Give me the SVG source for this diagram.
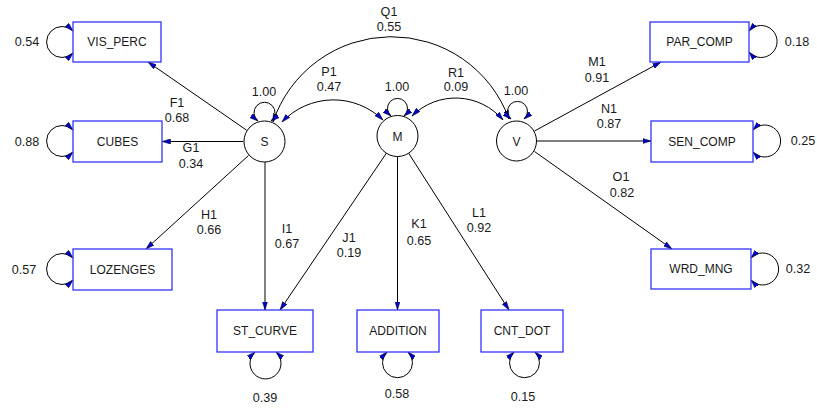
<svg xmlns="http://www.w3.org/2000/svg" width="817" height="408" viewBox="0 0 817 408">
<style>
text{font-family:"Liberation Sans",Arial,sans-serif;font-size:12px;fill:#1a1a1a;text-anchor:middle}
#labels text{font-size:12.6px}
.box rect{fill:#fff;stroke:#3333ff;stroke-width:1.3}
.lat circle{fill:#fff;stroke:#000;stroke-width:1}
.e{fill:none;stroke:#000;stroke-width:1;marker-end:url(#ah)}
.b{fill:none;stroke:#000;stroke-width:1;marker-start:url(#ahs);marker-end:url(#ah)}
</style>
<defs>
<marker id="ah" viewBox="0 0 10 6" refX="10" refY="3" markerWidth="8.5" markerHeight="5.5" markerUnits="userSpaceOnUse" orient="auto"><path d="M0,0 L10,3 L0,6 Z" fill="#0000cc" stroke="#000" stroke-width="0.6"/></marker>
<marker id="ahs" viewBox="0 0 10 6" refX="10" refY="3" markerWidth="8.5" markerHeight="5.5" markerUnits="userSpaceOnUse" orient="auto-start-reverse"><path d="M0,0 L10,3 L0,6 Z" fill="#0000cc" stroke="#000" stroke-width="0.6"/></marker>
</defs>
<rect width="817" height="408" fill="#fff"/>
<g id="connectors">
<path class="e" d="M246.6,130.2 L148,62"/>
<path class="e" d="M243.5,141.5 L162,141.5"/>
<path class="e" d="M248.5,155.5 L146,249"/>
<path class="e" d="M265,162 L265,310"/>
<path class="e" d="M386.5,153 L280,310"/>
<path class="e" d="M397.5,156.5 L397.5,310"/>
<path class="e" d="M408.5,153 L509,310"/>
<path class="e" d="M534.5,131 L661,62"/>
<path class="e" d="M536.5,141 L651,141"/>
<path class="e" d="M534.5,151.5 L672,249"/>
<path class="b" d="M282,122 A71,71 0 0 1 383,120"/>
<path class="b" d="M273,122 A125,125 0 0 1 509,119"/>
<path class="b" d="M412,116 A62,62 0 0 1 503,120"/>
<path class="b" d="M258,121 A10.5,10.5 0 1 1 271,121"/>
<path class="b" d="M391,116 A10,10 0 1 1 404,116"/>
<path class="b" d="M511,119 A10,10 0 1 1 524,119"/>
<path class="b" d="M73,31 A15.5,15.5 0 1 0 73,53"/>
<path class="b" d="M73,130 A15.5,15.5 0 1 0 73,152"/>
<path class="b" d="M73,258 A15.5,15.5 0 1 0 73,280"/>
<path class="b" d="M749,31 A16,16 0 1 1 749,52"/>
<path class="b" d="M753,130 A16,16 0 1 1 753,152"/>
<path class="b" d="M751,258 A16,16 0 1 1 751,280"/>
<path class="b" d="M255,352 A15.5,15.5 0 1 0 276,352"/>
<path class="b" d="M387,352 A15,15 0 1 0 408,352"/>
<path class="b" d="M514,352 A15,15 0 1 0 535,352"/>
</g>
<g id="S" class="lat"><circle cx="264.5" cy="141.5" r="20.5"/><text x="264.5" y="146">S</text></g>
<g id="M" class="lat"><circle cx="397.5" cy="136" r="20.5"/><text x="397.5" y="140.5">M</text></g>
<g id="V" class="lat"><circle cx="516.5" cy="141" r="20"/><text x="516.5" y="145.5">V</text></g>
<g id="VIS_PERC" class="box"><rect x="73" y="22" width="88" height="40"/><text x="117" y="46">VIS_PERC</text></g>
<g id="CUBES" class="box"><rect x="73" y="121" width="89" height="41"/><text x="117.5" y="146">CUBES</text></g>
<g id="LOZENGES" class="box"><rect x="73" y="249" width="99" height="41"/><text x="122.5" y="274">LOZENGES</text></g>
<g id="ST_CURVE" class="box"><rect x="217" y="310" width="96" height="42"/><text x="265" y="335">ST_CURVE</text></g>
<g id="ADDITION" class="box"><rect x="357" y="310" width="82" height="42"/><text x="398" y="335">ADDITION</text></g>
<g id="CNT_DOT" class="box"><rect x="481" y="310" width="82" height="42"/><text x="522" y="335">CNT_DOT</text></g>
<g id="PAR_COMP" class="box"><rect x="650" y="22" width="99" height="40"/><text x="699.5" y="46">PAR_COMP</text></g>
<g id="SEN_COMP" class="box"><rect x="651" y="121" width="102" height="41"/><text x="702" y="146">SEN_COMP</text></g>
<g id="WRD_MNG" class="box"><rect x="651" y="249" width="100" height="40"/><text x="701" y="273">WRD_MNG</text></g>
<g id="labels">
<text x="27" y="46">0.54</text>
<text x="27" y="146">0.88</text>
<text x="24" y="274">0.57</text>
<text x="797" y="46">0.18</text>
<text x="803" y="145">0.25</text>
<text x="798" y="273">0.32</text>
<text x="265" y="402">0.39</text>
<text x="397" y="398">0.58</text>
<text x="523" y="401">0.15</text>
<text x="264" y="96">1.00</text>
<text x="397" y="91">1.00</text>
<text x="516" y="95">1.00</text>
<text x="389" y="16">Q1</text><text x="389" y="31">0.55</text>
<text x="329" y="76">P1</text><text x="329" y="91">0.47</text>
<text x="456" y="77">R1</text><text x="456" y="91">0.09</text>
<text x="177" y="107">F1</text><text x="177" y="122">0.68</text>
<text x="191" y="152">G1</text><text x="191" y="168">0.34</text>
<text x="209" y="219">H1</text><text x="209" y="234">0.66</text>
<text x="287" y="233">I1</text><text x="287" y="248">0.67</text>
<text x="349" y="242">J1</text><text x="349" y="257">0.19</text>
<text x="419" y="228">K1</text><text x="419" y="245">0.65</text>
<text x="479" y="217">L1</text><text x="479" y="232">0.92</text>
<text x="597" y="66">M1</text><text x="597" y="82">0.91</text>
<text x="609" y="113">N1</text><text x="609" y="128">0.87</text>
<text x="621" y="181">O1</text><text x="622" y="197">0.82</text>
</g>
</svg>
